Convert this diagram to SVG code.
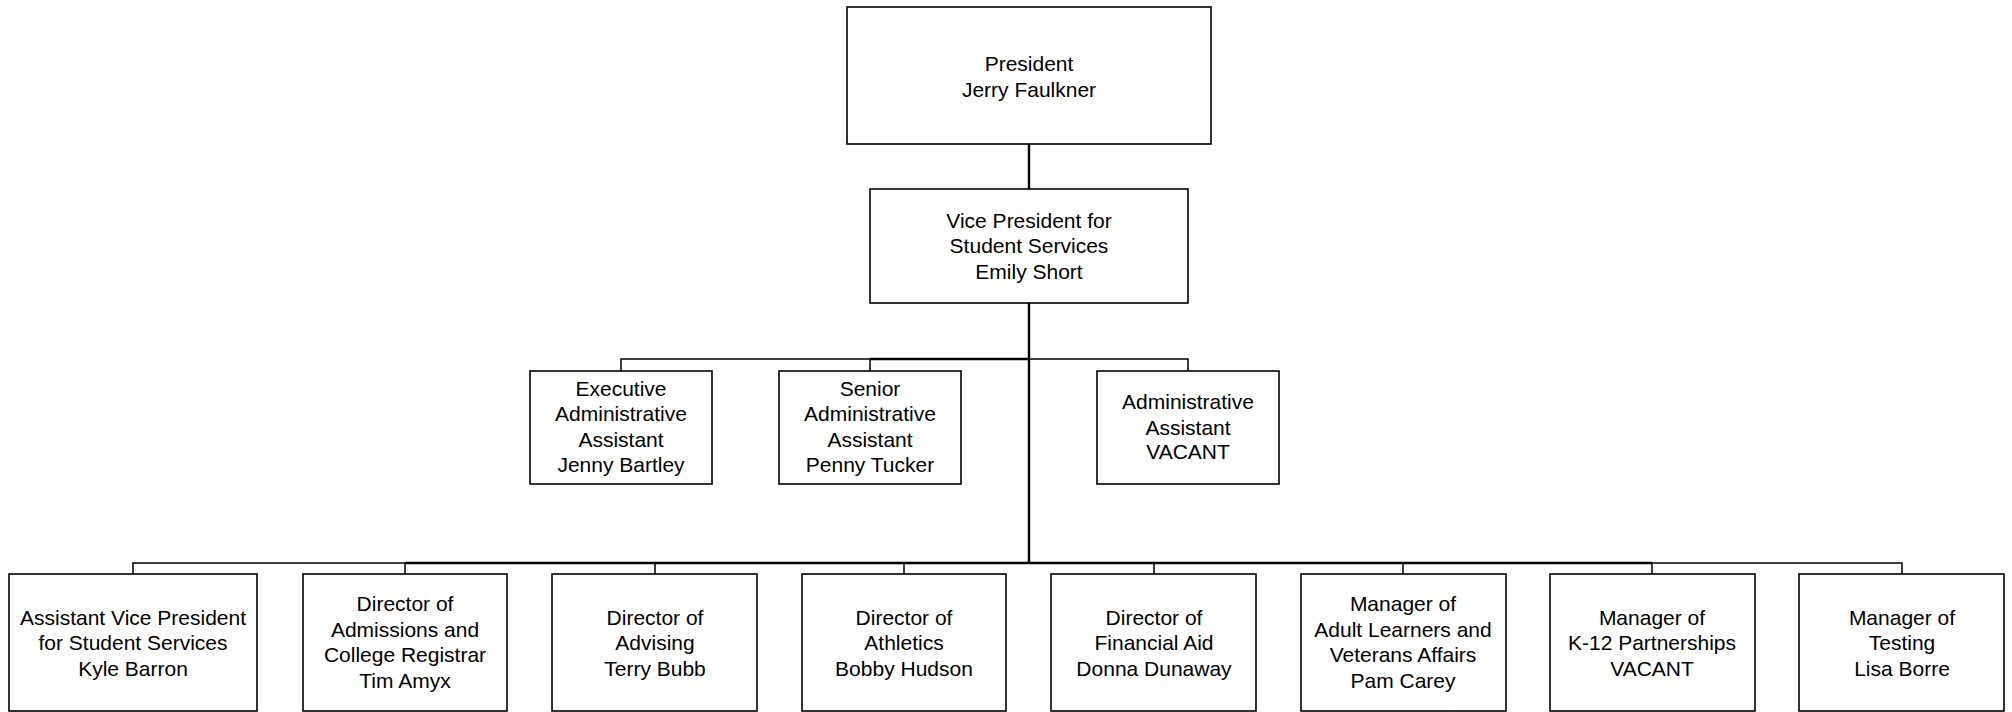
<svg xmlns="http://www.w3.org/2000/svg" width="2012" height="712" viewBox="0 0 2012 712">
<style>
.box{fill:#fff;stroke:#000;stroke-width:1.6}
.t{font-family:"Liberation Sans",Arial,sans-serif;font-size:21px;fill:#000;text-anchor:middle}
.c{fill:none;stroke:#000;stroke-width:1.5}
.ct{fill:none;stroke:#000;stroke-width:2.4}
</style>
<rect width="2012" height="712" fill="#fff"/>
<g id="connectors">
<path class="ct" d="M1029,144V189M1029,303V563"/>
<path class="c" d="M621,371V359H1188V371M870,359V371"/>
<path class="ct" d="M870,359H1029"/>
<path class="c" d="M133,574V563H1902V574M405,563V574M655,563V574M904,563V574M1154,563V574M1403,563V574M1652,563V574"/>
<path class="ct" d="M405,563H1652"/>
</g>
<g id="president"><rect class="box" x="847" y="7" width="364" height="137"/>
<text class="t" x="1029" y="70.5">President</text><text class="t" x="1029" y="96.5">Jerry Faulkner</text></g>
<g id="vp"><rect class="box" x="870" y="189" width="318" height="114"/>
<text class="t" x="1029" y="227.5">Vice President for</text><text class="t" x="1029" y="253">Student Services</text><text class="t" x="1029" y="279">Emily Short</text></g>
<g id="exec"><rect class="box" x="530" y="371" width="182" height="113"/>
<text class="t" x="621" y="395.5">Executive</text><text class="t" x="621" y="421">Administrative</text><text class="t" x="621" y="446.5">Assistant</text><text class="t" x="621" y="472">Jenny Bartley</text></g>
<g id="senior"><rect class="box" x="779" y="371" width="182" height="113"/>
<text class="t" x="870" y="395.5">Senior</text><text class="t" x="870" y="421">Administrative</text><text class="t" x="870" y="446.5">Assistant</text><text class="t" x="870" y="472">Penny Tucker</text></g>
<g id="admin"><rect class="box" x="1097" y="371" width="182" height="113"/>
<text class="t" x="1188" y="409">Administrative</text><text class="t" x="1188" y="434.5">Assistant</text><text class="t" x="1188" y="459">VACANT</text></g>
<g id="avp"><rect class="box" x="9" y="574" width="248" height="137"/>
<text class="t" x="133" y="624.5">Assistant Vice President</text><text class="t" x="133" y="650">for Student Services</text><text class="t" x="133" y="675.5">Kyle Barron</text></g>
<g id="admissions"><rect class="box" x="303" y="574" width="204" height="137"/>
<text class="t" x="405" y="611">Director of</text><text class="t" x="405" y="636.7">Admissions and</text><text class="t" x="405" y="662.3">College Registrar</text><text class="t" x="405" y="688">Tim Amyx</text></g>
<g id="advising"><rect class="box" x="552" y="574" width="205" height="137"/>
<text class="t" x="655" y="624.5">Director of</text><text class="t" x="655" y="650">Advising</text><text class="t" x="655" y="675.5">Terry Bubb</text></g>
<g id="athletics"><rect class="box" x="802" y="574" width="204" height="137"/>
<text class="t" x="904" y="624.5">Director of</text><text class="t" x="904" y="650">Athletics</text><text class="t" x="904" y="675.5">Bobby Hudson</text></g>
<g id="finaid"><rect class="box" x="1051" y="574" width="205" height="137"/>
<text class="t" x="1154" y="624.5">Director of</text><text class="t" x="1154" y="650">Financial Aid</text><text class="t" x="1154" y="675.5">Donna Dunaway</text></g>
<g id="adult"><rect class="box" x="1301" y="574" width="205" height="137"/>
<text class="t" x="1403" y="611">Manager of</text><text class="t" x="1403" y="636.7">Adult Learners and</text><text class="t" x="1403" y="662.3">Veterans Affairs</text><text class="t" x="1403" y="688">Pam Carey</text></g>
<g id="k12"><rect class="box" x="1550" y="574" width="205" height="137"/>
<text class="t" x="1652" y="624.5">Manager of</text><text class="t" x="1652" y="650">K-12 Partnerships</text><text class="t" x="1652" y="675.5">VACANT</text></g>
<g id="testing"><rect class="box" x="1799" y="574" width="205" height="137"/>
<text class="t" x="1902" y="624.5">Manager of</text><text class="t" x="1902" y="650">Testing</text><text class="t" x="1902" y="675.5">Lisa Borre</text></g>
</svg>
